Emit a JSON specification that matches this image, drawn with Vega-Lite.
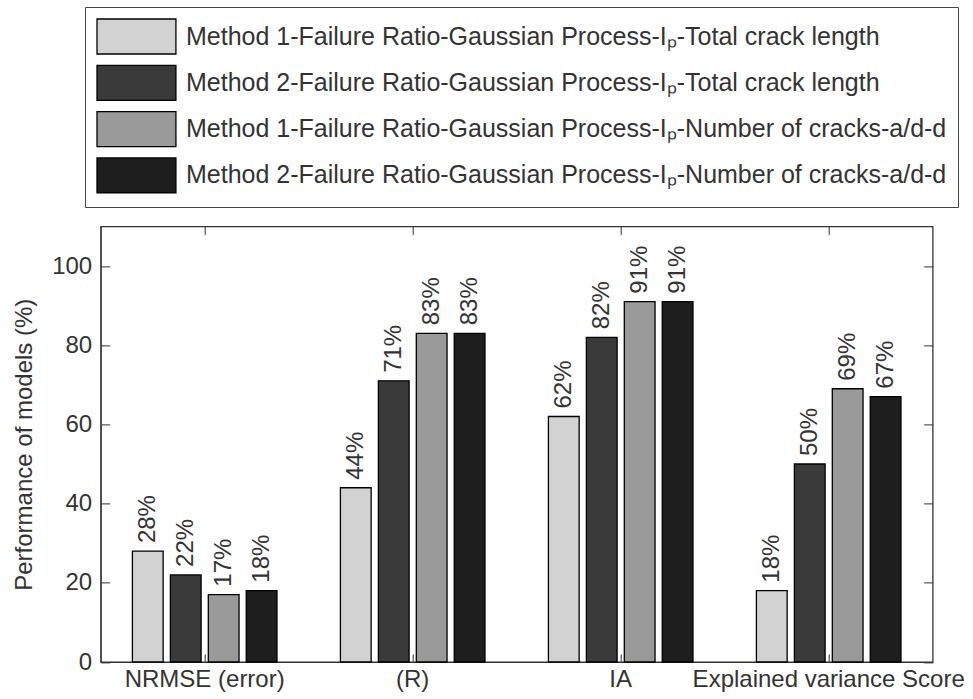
{
  "$schema": "https://vega.github.io/schema/vega-lite/v6.json",
  "width": 832,
  "height": 435.6,
  "autosize": {"type": "none"},
  "padding": {"left": 100.7, "top": 226.4, "right": 40.3, "bottom": 37},
  "config": {
    "font": "Liberation Sans",
    "view": {"stroke": "#333", "strokeWidth": 1.3},
    "axis": {"grid": false, "domainColor": "#333", "tickColor": "#333", "labelColor": "#333", "titleColor": "#333", "labelFont": "Liberation Sans", "titleFont": "Liberation Sans"}
  },
  "data": {
    "values": [
      {"metric": "NRMSE (error)", "series": "Method 1-Failure Ratio-Gaussian Process-Iₚ-Total crack length", "value": 28, "label": "28%"},
      {"metric": "NRMSE (error)", "series": "Method 2-Failure Ratio-Gaussian Process-Iₚ-Total crack length", "value": 22, "label": "22%"},
      {"metric": "NRMSE (error)", "series": "Method 1-Failure Ratio-Gaussian Process-Iₚ-Number of cracks-a/d-d", "value": 17, "label": "17%"},
      {"metric": "NRMSE (error)", "series": "Method 2-Failure Ratio-Gaussian Process-Iₚ-Number of cracks-a/d-d", "value": 18, "label": "18%"},
      {"metric": "(R)", "series": "Method 1-Failure Ratio-Gaussian Process-Iₚ-Total crack length", "value": 44, "label": "44%"},
      {"metric": "(R)", "series": "Method 2-Failure Ratio-Gaussian Process-Iₚ-Total crack length", "value": 71, "label": "71%"},
      {"metric": "(R)", "series": "Method 1-Failure Ratio-Gaussian Process-Iₚ-Number of cracks-a/d-d", "value": 83, "label": "83%"},
      {"metric": "(R)", "series": "Method 2-Failure Ratio-Gaussian Process-Iₚ-Number of cracks-a/d-d", "value": 83, "label": "83%"},
      {"metric": "IA", "series": "Method 1-Failure Ratio-Gaussian Process-Iₚ-Total crack length", "value": 62, "label": "62%"},
      {"metric": "IA", "series": "Method 2-Failure Ratio-Gaussian Process-Iₚ-Total crack length", "value": 82, "label": "82%"},
      {"metric": "IA", "series": "Method 1-Failure Ratio-Gaussian Process-Iₚ-Number of cracks-a/d-d", "value": 91, "label": "91%"},
      {"metric": "IA", "series": "Method 2-Failure Ratio-Gaussian Process-Iₚ-Number of cracks-a/d-d", "value": 91, "label": "91%"},
      {"metric": "Explained variance Score", "series": "Method 1-Failure Ratio-Gaussian Process-Iₚ-Total crack length", "value": 18, "label": "18%"},
      {"metric": "Explained variance Score", "series": "Method 2-Failure Ratio-Gaussian Process-Iₚ-Total crack length", "value": 50, "label": "50%"},
      {"metric": "Explained variance Score", "series": "Method 1-Failure Ratio-Gaussian Process-Iₚ-Number of cracks-a/d-d", "value": 69, "label": "69%"},
      {"metric": "Explained variance Score", "series": "Method 2-Failure Ratio-Gaussian Process-Iₚ-Number of cracks-a/d-d", "value": 67, "label": "67%"}
    ]
  },
  "encoding": {
    "xOffset": {
      "field": "series", "type": "nominal",
      "sort": [
        "Method 1-Failure Ratio-Gaussian Process-Iₚ-Total crack length",
        "Method 2-Failure Ratio-Gaussian Process-Iₚ-Total crack length",
        "Method 1-Failure Ratio-Gaussian Process-Iₚ-Number of cracks-a/d-d",
        "Method 2-Failure Ratio-Gaussian Process-Iₚ-Number of cracks-a/d-d"
      ],
      "scale": {"paddingInner": 0.19, "paddingOuter": 0}
    }
  },
  "layer": [
    {
      "mark": {"type": "bar", "stroke": "black", "strokeWidth": 1.3},
      "encoding": {
        "x": {
          "field": "metric", "type": "nominal",
          "sort": ["NRMSE (error)", "(R)", "IA", "Explained variance Score"],
          "scale": {"paddingInner": 0.305, "paddingOuter": 0.1525},
          "axis": {"orient": "bottom", "title": null, "labelAngle": 0, "labelFontSize": 24, "tickSize": -8, "labelPadding": 13, "labelOverlap": false, "labelBound": false, "labelLimit": 0}
        },
        "y": {
          "field": "value", "type": "quantitative",
          "scale": {"domain": [0, 110], "nice": false},
          "axis": {"orient": "left", "title": "Performance of models (%)", "titleFontSize": 24, "titleFontWeight": "normal", "titleX": -76, "titleBaseline": "middle", "labelFontSize": 24, "tickSize": -9, "labelPadding": 18, "values": [0, 20, 40, 60, 80, 100]}
        },
        "color": {
          "field": "series", "type": "nominal",
          "sort": [
            "Method 1-Failure Ratio-Gaussian Process-Iₚ-Total crack length",
            "Method 2-Failure Ratio-Gaussian Process-Iₚ-Total crack length",
            "Method 1-Failure Ratio-Gaussian Process-Iₚ-Number of cracks-a/d-d",
            "Method 2-Failure Ratio-Gaussian Process-Iₚ-Number of cracks-a/d-d"
          ],
          "scale": {"range": ["#d2d2d2", "#3a3a3a", "#9a9a9a", "#1e1e1e"]},
          "legend": {
            "title": null, "orient": "none", "legendX": -15.7, "legendY": -219.4, "direction": "vertical",
            "symbolType": "M-1,-1H3.51V1H-1Z", "symbolSize": 1225, "symbolStrokeColor": "black", "symbolStrokeWidth": 1.3, "symbolOpacity": 1,
            "labelFontSize": 25, "labelColor": "#333", "labelLimit": 0, "labelOffset": 53, "labelFont": "Liberation Sans",
            "rowPadding": 5.3, "padding": 11, "strokeColor": "#444", "fillColor": "white"
          }
        }
      }
    },
    {
      "mark": {"type": "text", "angle": 270, "align": "left", "baseline": "middle", "dx": 8, "fontSize": 24, "color": "#333", "font": "Liberation Sans"},
      "encoding": {
        "x": {
          "field": "metric", "type": "nominal",
          "sort": ["NRMSE (error)", "(R)", "IA", "Explained variance Score"],
          "axis": {"orient": "top", "title": null, "labels": false, "domain": false, "tickSize": -8}
        },
        "y": {
          "field": "value", "type": "quantitative",
          "axis": {"orient": "right", "title": null, "labels": false, "domain": false, "tickSize": -9, "values": [0, 20, 40, 60, 80, 100]}
        },
        "text": {"field": "label"}
      }
    }
  ],
  "resolve": {"axis": {"x": "independent", "y": "independent"}}
}
